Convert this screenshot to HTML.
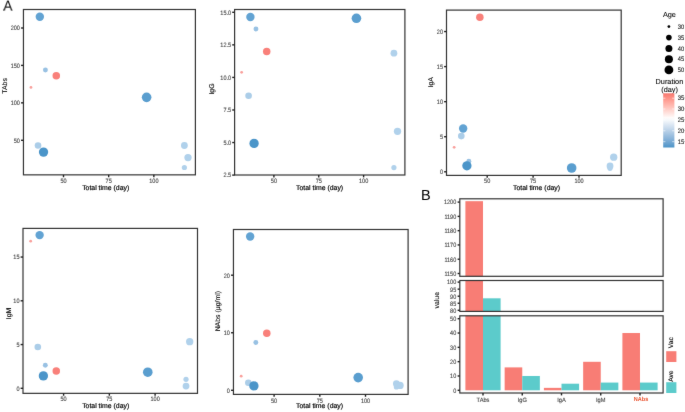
<!DOCTYPE html>
<html><head><meta charset="utf-8"><style>
html,body{margin:0;padding:0;background:#fff;}
body{width:685px;height:412px;overflow:hidden;}
svg{display:block;font-family:"Liberation Sans", sans-serif;will-change:transform;text-rendering:geometricPrecision;}
</style></head><body>
<svg width="685" height="412" viewBox="0 0 685 412">
<defs><filter id="soft" x="0" y="0" width="685" height="412" filterUnits="userSpaceOnUse" color-interpolation-filters="sRGB"><feConvolveMatrix order="3" kernelMatrix="0.01 0.05 0.01 0.05 0.76 0.05 0.01 0.05 0.01" edgeMode="duplicate"/></filter></defs>
<g filter="url(#soft)">
<rect width="685" height="412" fill="#fff"/>
<circle cx="30.97" cy="87.40" r="1.4" fill="#f9a09c"/>
<circle cx="45.43" cy="70.00" r="2.45" fill="#98c1e3"/>
<circle cx="38.02" cy="145.50" r="3.3" fill="#abcde8"/>
<circle cx="184.39" cy="167.50" r="2.6" fill="#b0d1eb"/>
<circle cx="184.39" cy="145.50" r="3.4" fill="#b0d1eb"/>
<circle cx="188.00" cy="157.60" r="3.65" fill="#b0d1eb"/>
<circle cx="56.27" cy="75.80" r="3.75" fill="#f9807a"/>
<circle cx="39.83" cy="16.70" r="4.2" fill="#62a3d3"/>
<circle cx="146.62" cy="97.35" r="4.8" fill="#5a9ecf"/>
<circle cx="43.53" cy="152.10" r="4.65" fill="#4b95c9"/>
<rect x="23.45" y="9.5" width="171.95" height="165.35" fill="none" stroke="#333333" stroke-width="1.2"/>
<line x1="21.05" y1="28.0" x2="23.45" y2="28.0" stroke="#222222" stroke-width="1.4"/>
<text transform="translate(19.95 28.85) scale(0.88 1)" font-size="6.3" text-anchor="end" dominant-baseline="central" fill="#444444" font-weight="normal" stroke="#444" stroke-width="0.12">200</text>
<line x1="21.05" y1="65.4" x2="23.45" y2="65.4" stroke="#222222" stroke-width="1.4"/>
<text transform="translate(19.95 66.25) scale(0.88 1)" font-size="6.3" text-anchor="end" dominant-baseline="central" fill="#444444" font-weight="normal" stroke="#444" stroke-width="0.12">150</text>
<line x1="21.05" y1="102.85" x2="23.45" y2="102.85" stroke="#222222" stroke-width="1.4"/>
<text transform="translate(19.95 103.70) scale(0.88 1)" font-size="6.3" text-anchor="end" dominant-baseline="central" fill="#444444" font-weight="normal" stroke="#444" stroke-width="0.12">100</text>
<line x1="21.05" y1="140.3" x2="23.45" y2="140.3" stroke="#222222" stroke-width="1.4"/>
<text transform="translate(19.95 141.15) scale(0.88 1)" font-size="6.3" text-anchor="end" dominant-baseline="central" fill="#444444" font-weight="normal" stroke="#444" stroke-width="0.12">50</text>
<line x1="63.50" y1="174.85" x2="63.50" y2="177.25" stroke="#222222" stroke-width="1.4"/>
<text transform="translate(63.50 181.30) scale(0.88 1)" font-size="6.3" text-anchor="middle" dominant-baseline="central" fill="#444444" font-weight="normal" stroke="#444" stroke-width="0.12">50</text>
<line x1="108.67" y1="174.85" x2="108.67" y2="177.25" stroke="#222222" stroke-width="1.4"/>
<text transform="translate(108.67 181.30) scale(0.88 1)" font-size="6.3" text-anchor="middle" dominant-baseline="central" fill="#444444" font-weight="normal" stroke="#444" stroke-width="0.12">75</text>
<line x1="153.85" y1="174.85" x2="153.85" y2="177.25" stroke="#222222" stroke-width="1.4"/>
<text transform="translate(153.85 181.30) scale(0.88 1)" font-size="6.3" text-anchor="middle" dominant-baseline="central" fill="#444444" font-weight="normal" stroke="#444" stroke-width="0.12">100</text>
<text transform="translate(105.70 188.60)" font-size="6.9" text-anchor="middle" dominant-baseline="central" fill="#000" font-weight="normal" stroke="#000" stroke-width="0.18">Total time (day)</text>
<text transform="translate(5.30 85.90) rotate(-90)" font-size="6.9" text-anchor="middle" dominant-baseline="central" fill="#000" font-weight="normal" stroke="#000" stroke-width="0.1">TAbs</text>
<circle cx="241.61" cy="72.30" r="1.4" fill="#f9a09c"/>
<circle cx="255.96" cy="29.00" r="2.45" fill="#98c1e3"/>
<circle cx="248.60" cy="95.80" r="3.3" fill="#abcde8"/>
<circle cx="393.92" cy="167.60" r="2.6" fill="#b0d1eb"/>
<circle cx="393.92" cy="53.20" r="3.4" fill="#b0d1eb"/>
<circle cx="397.51" cy="131.35" r="3.65" fill="#b0d1eb"/>
<circle cx="266.72" cy="51.60" r="3.75" fill="#f9807a"/>
<circle cx="250.40" cy="17.00" r="4.2" fill="#62a3d3"/>
<circle cx="356.42" cy="18.30" r="4.8" fill="#5a9ecf"/>
<circle cx="254.08" cy="143.40" r="4.65" fill="#4b95c9"/>
<rect x="234.6" y="9.5" width="170.30" height="165.50" fill="none" stroke="#333333" stroke-width="1.2"/>
<line x1="232.20" y1="12.3" x2="234.6" y2="12.3" stroke="#222222" stroke-width="1.4"/>
<text transform="translate(231.10 13.15) scale(0.88 1)" font-size="6.3" text-anchor="end" dominant-baseline="central" fill="#444444" font-weight="normal" stroke="#444" stroke-width="0.12">15.0</text>
<line x1="232.20" y1="44.86" x2="234.6" y2="44.86" stroke="#222222" stroke-width="1.4"/>
<text transform="translate(231.10 45.71) scale(0.88 1)" font-size="6.3" text-anchor="end" dominant-baseline="central" fill="#444444" font-weight="normal" stroke="#444" stroke-width="0.12">12.5</text>
<line x1="232.20" y1="77.42" x2="234.6" y2="77.42" stroke="#222222" stroke-width="1.4"/>
<text transform="translate(231.10 78.27) scale(0.88 1)" font-size="6.3" text-anchor="end" dominant-baseline="central" fill="#444444" font-weight="normal" stroke="#444" stroke-width="0.12">10.0</text>
<line x1="232.20" y1="109.98" x2="234.6" y2="109.98" stroke="#222222" stroke-width="1.4"/>
<text transform="translate(231.10 110.83) scale(0.88 1)" font-size="6.3" text-anchor="end" dominant-baseline="central" fill="#444444" font-weight="normal" stroke="#444" stroke-width="0.12">7.5</text>
<line x1="232.20" y1="142.54" x2="234.6" y2="142.54" stroke="#222222" stroke-width="1.4"/>
<text transform="translate(231.10 143.39) scale(0.88 1)" font-size="6.3" text-anchor="end" dominant-baseline="central" fill="#444444" font-weight="normal" stroke="#444" stroke-width="0.12">5.0</text>
<line x1="232.20" y1="175.1" x2="234.6" y2="175.1" stroke="#222222" stroke-width="1.4"/>
<text transform="translate(231.10 175.95) scale(0.88 1)" font-size="6.3" text-anchor="end" dominant-baseline="central" fill="#444444" font-weight="normal" stroke="#444" stroke-width="0.12">2.5</text>
<line x1="273.90" y1="175.0" x2="273.90" y2="177.40" stroke="#222222" stroke-width="1.4"/>
<text transform="translate(273.90 181.30) scale(0.88 1)" font-size="6.3" text-anchor="middle" dominant-baseline="central" fill="#444444" font-weight="normal" stroke="#444" stroke-width="0.12">50</text>
<line x1="318.75" y1="175.0" x2="318.75" y2="177.40" stroke="#222222" stroke-width="1.4"/>
<text transform="translate(318.75 181.30) scale(0.88 1)" font-size="6.3" text-anchor="middle" dominant-baseline="central" fill="#444444" font-weight="normal" stroke="#444" stroke-width="0.12">75</text>
<line x1="363.60" y1="175.0" x2="363.60" y2="177.40" stroke="#222222" stroke-width="1.4"/>
<text transform="translate(363.60 181.30) scale(0.88 1)" font-size="6.3" text-anchor="middle" dominant-baseline="central" fill="#444444" font-weight="normal" stroke="#444" stroke-width="0.12">100</text>
<text transform="translate(319.60 188.60)" font-size="6.9" text-anchor="middle" dominant-baseline="central" fill="#000" font-weight="normal" stroke="#000" stroke-width="0.18">Total time (day)</text>
<text transform="translate(212.70 89.00) rotate(-90)" font-size="6.9" text-anchor="middle" dominant-baseline="central" fill="#000" font-weight="normal" stroke="#000" stroke-width="0.1">IgG</text>
<circle cx="454.15" cy="147.30" r="1.4" fill="#f9a09c"/>
<circle cx="468.84" cy="161.30" r="2.45" fill="#98c1e3"/>
<circle cx="461.31" cy="136.10" r="3.3" fill="#abcde8"/>
<circle cx="610.03" cy="168.30" r="2.6" fill="#b0d1eb"/>
<circle cx="610.03" cy="165.90" r="3.4" fill="#b0d1eb"/>
<circle cx="613.70" cy="157.20" r="3.65" fill="#b0d1eb"/>
<circle cx="479.86" cy="17.20" r="3.75" fill="#f9807a"/>
<circle cx="463.15" cy="128.50" r="4.2" fill="#62a3d3"/>
<circle cx="571.66" cy="168.00" r="4.8" fill="#5a9ecf"/>
<circle cx="466.91" cy="165.80" r="4.65" fill="#4b95c9"/>
<rect x="446.5" y="10.1" width="174.70" height="165.30" fill="none" stroke="#333333" stroke-width="1.2"/>
<line x1="444.10" y1="31.55" x2="446.5" y2="31.55" stroke="#222222" stroke-width="1.4"/>
<text transform="translate(443.00 32.40) scale(0.88 1)" font-size="6.3" text-anchor="end" dominant-baseline="central" fill="#444444" font-weight="normal" stroke="#444" stroke-width="0.12">20</text>
<line x1="444.10" y1="66.61" x2="446.5" y2="66.61" stroke="#222222" stroke-width="1.4"/>
<text transform="translate(443.00 67.46) scale(0.88 1)" font-size="6.3" text-anchor="end" dominant-baseline="central" fill="#444444" font-weight="normal" stroke="#444" stroke-width="0.12">15</text>
<line x1="444.10" y1="101.67" x2="446.5" y2="101.67" stroke="#222222" stroke-width="1.4"/>
<text transform="translate(443.00 102.52) scale(0.88 1)" font-size="6.3" text-anchor="end" dominant-baseline="central" fill="#444444" font-weight="normal" stroke="#444" stroke-width="0.12">10</text>
<line x1="444.10" y1="136.73" x2="446.5" y2="136.73" stroke="#222222" stroke-width="1.4"/>
<text transform="translate(443.00 137.58) scale(0.88 1)" font-size="6.3" text-anchor="end" dominant-baseline="central" fill="#444444" font-weight="normal" stroke="#444" stroke-width="0.12">5</text>
<line x1="444.10" y1="171.8" x2="446.5" y2="171.8" stroke="#222222" stroke-width="1.4"/>
<text transform="translate(443.00 172.65) scale(0.88 1)" font-size="6.3" text-anchor="end" dominant-baseline="central" fill="#444444" font-weight="normal" stroke="#444" stroke-width="0.12">0</text>
<line x1="487.20" y1="175.4" x2="487.20" y2="177.80" stroke="#222222" stroke-width="1.4"/>
<text transform="translate(487.20 181.55) scale(0.88 1)" font-size="6.3" text-anchor="middle" dominant-baseline="central" fill="#444444" font-weight="normal" stroke="#444" stroke-width="0.12">50</text>
<line x1="533.10" y1="175.4" x2="533.10" y2="177.80" stroke="#222222" stroke-width="1.4"/>
<text transform="translate(533.10 181.55) scale(0.88 1)" font-size="6.3" text-anchor="middle" dominant-baseline="central" fill="#444444" font-weight="normal" stroke="#444" stroke-width="0.12">75</text>
<line x1="579.00" y1="175.4" x2="579.00" y2="177.80" stroke="#222222" stroke-width="1.4"/>
<text transform="translate(579.00 181.55) scale(0.88 1)" font-size="6.3" text-anchor="middle" dominant-baseline="central" fill="#444444" font-weight="normal" stroke="#444" stroke-width="0.12">100</text>
<text transform="translate(536.50 188.60)" font-size="6.9" text-anchor="middle" dominant-baseline="central" fill="#000" font-weight="normal" stroke="#000" stroke-width="0.18">Total time (day)</text>
<text transform="translate(431.60 82.20) rotate(-90)" font-size="6.9" text-anchor="middle" dominant-baseline="central" fill="#000" font-weight="normal" stroke="#000" stroke-width="0.1">IgA</text>
<circle cx="30.66" cy="241.20" r="1.4" fill="#f9a09c"/>
<circle cx="45.30" cy="365.20" r="2.45" fill="#98c1e3"/>
<circle cx="37.80" cy="347.00" r="3.3" fill="#abcde8"/>
<circle cx="186.03" cy="379.30" r="2.6" fill="#b0d1eb"/>
<circle cx="186.03" cy="386.10" r="3.4" fill="#b0d1eb"/>
<circle cx="189.69" cy="341.70" r="3.65" fill="#b0d1eb"/>
<circle cx="56.28" cy="371.00" r="3.75" fill="#f9807a"/>
<circle cx="39.63" cy="235.10" r="4.2" fill="#62a3d3"/>
<circle cx="147.78" cy="372.20" r="4.8" fill="#5a9ecf"/>
<circle cx="43.38" cy="375.90" r="4.65" fill="#4b95c9"/>
<rect x="23.0" y="228.4" width="174.50" height="164.95" fill="none" stroke="#333333" stroke-width="1.2"/>
<line x1="20.60" y1="257.05" x2="23.0" y2="257.05" stroke="#222222" stroke-width="1.4"/>
<text transform="translate(19.50 257.90) scale(0.88 1)" font-size="6.3" text-anchor="end" dominant-baseline="central" fill="#444444" font-weight="normal" stroke="#444" stroke-width="0.12">15</text>
<line x1="20.60" y1="300.8" x2="23.0" y2="300.8" stroke="#222222" stroke-width="1.4"/>
<text transform="translate(19.50 301.65) scale(0.88 1)" font-size="6.3" text-anchor="end" dominant-baseline="central" fill="#444444" font-weight="normal" stroke="#444" stroke-width="0.12">10</text>
<line x1="20.60" y1="344.55" x2="23.0" y2="344.55" stroke="#222222" stroke-width="1.4"/>
<text transform="translate(19.50 345.40) scale(0.88 1)" font-size="6.3" text-anchor="end" dominant-baseline="central" fill="#444444" font-weight="normal" stroke="#444" stroke-width="0.12">5</text>
<line x1="20.60" y1="388.3" x2="23.0" y2="388.3" stroke="#222222" stroke-width="1.4"/>
<text transform="translate(19.50 389.15) scale(0.88 1)" font-size="6.3" text-anchor="end" dominant-baseline="central" fill="#444444" font-weight="normal" stroke="#444" stroke-width="0.12">0</text>
<line x1="63.60" y1="393.35" x2="63.60" y2="395.75" stroke="#222222" stroke-width="1.4"/>
<text transform="translate(63.60 399.65) scale(0.88 1)" font-size="6.3" text-anchor="middle" dominant-baseline="central" fill="#444444" font-weight="normal" stroke="#444" stroke-width="0.12">50</text>
<line x1="109.35" y1="393.35" x2="109.35" y2="395.75" stroke="#222222" stroke-width="1.4"/>
<text transform="translate(109.35 399.65) scale(0.88 1)" font-size="6.3" text-anchor="middle" dominant-baseline="central" fill="#444444" font-weight="normal" stroke="#444" stroke-width="0.12">75</text>
<line x1="155.10" y1="393.35" x2="155.10" y2="395.75" stroke="#222222" stroke-width="1.4"/>
<text transform="translate(155.10 399.65) scale(0.88 1)" font-size="6.3" text-anchor="middle" dominant-baseline="central" fill="#444444" font-weight="normal" stroke="#444" stroke-width="0.12">100</text>
<text transform="translate(105.70 406.90)" font-size="6.9" text-anchor="middle" dominant-baseline="central" fill="#000" font-weight="normal" stroke="#000" stroke-width="0.18">Total time (day)</text>
<text transform="translate(9.90 313.50) rotate(-90)" font-size="6.9" text-anchor="middle" dominant-baseline="central" fill="#000" font-weight="normal" stroke="#000" stroke-width="0.1">IgM</text>
<circle cx="241.20" cy="376.20" r="1.4" fill="#f9a09c"/>
<circle cx="255.82" cy="342.50" r="2.45" fill="#98c1e3"/>
<circle cx="248.33" cy="382.70" r="3.3" fill="#abcde8"/>
<circle cx="396.39" cy="386.90" r="2.6" fill="#b0d1eb"/>
<circle cx="396.39" cy="383.70" r="3.4" fill="#b0d1eb"/>
<circle cx="400.05" cy="385.40" r="3.65" fill="#b0d1eb"/>
<circle cx="266.79" cy="333.20" r="3.75" fill="#f9807a"/>
<circle cx="250.15" cy="236.50" r="4.2" fill="#62a3d3"/>
<circle cx="358.19" cy="377.60" r="4.8" fill="#5a9ecf"/>
<circle cx="253.90" cy="385.90" r="4.65" fill="#4b95c9"/>
<rect x="233.45" y="229.5" width="174.65" height="164.90" fill="none" stroke="#333333" stroke-width="1.2"/>
<line x1="231.05" y1="275.2" x2="233.45" y2="275.2" stroke="#222222" stroke-width="1.4"/>
<text transform="translate(229.95 276.05) scale(0.88 1)" font-size="6.3" text-anchor="end" dominant-baseline="central" fill="#444444" font-weight="normal" stroke="#444" stroke-width="0.12">20</text>
<line x1="231.05" y1="332.75" x2="233.45" y2="332.75" stroke="#222222" stroke-width="1.4"/>
<text transform="translate(229.95 333.60) scale(0.88 1)" font-size="6.3" text-anchor="end" dominant-baseline="central" fill="#444444" font-weight="normal" stroke="#444" stroke-width="0.12">10</text>
<line x1="231.05" y1="390.3" x2="233.45" y2="390.3" stroke="#222222" stroke-width="1.4"/>
<text transform="translate(229.95 391.15) scale(0.88 1)" font-size="6.3" text-anchor="end" dominant-baseline="central" fill="#444444" font-weight="normal" stroke="#444" stroke-width="0.12">0</text>
<line x1="274.10" y1="394.4" x2="274.10" y2="396.80" stroke="#222222" stroke-width="1.4"/>
<text transform="translate(274.10 401.05) scale(0.88 1)" font-size="6.3" text-anchor="middle" dominant-baseline="central" fill="#444444" font-weight="normal" stroke="#444" stroke-width="0.12">50</text>
<line x1="319.80" y1="394.4" x2="319.80" y2="396.80" stroke="#222222" stroke-width="1.4"/>
<text transform="translate(319.80 401.05) scale(0.88 1)" font-size="6.3" text-anchor="middle" dominant-baseline="central" fill="#444444" font-weight="normal" stroke="#444" stroke-width="0.12">75</text>
<line x1="365.50" y1="394.4" x2="365.50" y2="396.80" stroke="#222222" stroke-width="1.4"/>
<text transform="translate(365.50 401.05) scale(0.88 1)" font-size="6.3" text-anchor="middle" dominant-baseline="central" fill="#444444" font-weight="normal" stroke="#444" stroke-width="0.12">100</text>
<text transform="translate(319.50 406.90)" font-size="6.9" text-anchor="middle" dominant-baseline="central" fill="#000" font-weight="normal" stroke="#000" stroke-width="0.18">Total time (day)</text>
<text transform="translate(218.20 311.20) rotate(-90)" font-size="6.9" text-anchor="middle" dominant-baseline="central" fill="#000" font-weight="normal" stroke="#000" stroke-width="0.1">NAbs (μg/ml)</text>
<text transform="translate(3.4 10.6) scale(0.92 1)" font-size="14.5" fill="#000">A</text>
<text x="421.1" y="199.7" font-size="14.5" fill="#000">B</text>
<text transform="translate(669.40 14.80)" font-size="7.3" text-anchor="middle" dominant-baseline="central" fill="#000" font-weight="normal" stroke="#000" stroke-width="0.08">Age</text>
<circle cx="668.9" cy="26.6" r="1.4" fill="#000"/>
<text transform="translate(677.70 27.15) scale(0.9 1)" font-size="6.4" text-anchor="start" dominant-baseline="central" fill="#1a1a1a" font-weight="normal" stroke="#1a1a1a" stroke-width="0.1">30</text>
<circle cx="668.9" cy="37.6" r="2.8" fill="#000"/>
<text transform="translate(677.70 38.15) scale(0.9 1)" font-size="6.4" text-anchor="start" dominant-baseline="central" fill="#1a1a1a" font-weight="normal" stroke="#1a1a1a" stroke-width="0.1">35</text>
<circle cx="668.9" cy="48.5" r="3.5" fill="#000"/>
<text transform="translate(677.70 49.05) scale(0.9 1)" font-size="6.4" text-anchor="start" dominant-baseline="central" fill="#1a1a1a" font-weight="normal" stroke="#1a1a1a" stroke-width="0.1">40</text>
<circle cx="668.9" cy="59.2" r="4.0" fill="#000"/>
<text transform="translate(677.70 59.75) scale(0.9 1)" font-size="6.4" text-anchor="start" dominant-baseline="central" fill="#1a1a1a" font-weight="normal" stroke="#1a1a1a" stroke-width="0.1">45</text>
<circle cx="668.9" cy="69.9" r="4.4" fill="#000"/>
<text transform="translate(677.70 70.45) scale(0.9 1)" font-size="6.4" text-anchor="start" dominant-baseline="central" fill="#1a1a1a" font-weight="normal" stroke="#1a1a1a" stroke-width="0.1">50</text>
<text transform="translate(669.40 81.30)" font-size="7.3" text-anchor="middle" dominant-baseline="central" fill="#000" font-weight="normal" stroke="#000" stroke-width="0.08">Duration</text>
<text transform="translate(669.60 89.60)" font-size="7.3" text-anchor="middle" dominant-baseline="central" fill="#000" font-weight="normal" stroke="#000" stroke-width="0.08">(day)</text>
<defs><linearGradient id="cb" x1="0" y1="1" x2="0" y2="0"><stop offset="0.000" stop-color="#4a94c8"/><stop offset="0.050" stop-color="#609dcd"/><stop offset="0.100" stop-color="#73a7d2"/><stop offset="0.150" stop-color="#85b1d8"/><stop offset="0.200" stop-color="#95bbdd"/><stop offset="0.250" stop-color="#a6c5e2"/><stop offset="0.300" stop-color="#b6cfe7"/><stop offset="0.350" stop-color="#c6d9ec"/><stop offset="0.400" stop-color="#d5e3f1"/><stop offset="0.450" stop-color="#e5edf6"/><stop offset="0.500" stop-color="#f4f8fb"/><stop offset="0.550" stop-color="#fffbfa"/><stop offset="0.600" stop-color="#ffece9"/><stop offset="0.650" stop-color="#ffded9"/><stop offset="0.700" stop-color="#ffcfc9"/><stop offset="0.750" stop-color="#ffc1b9"/><stop offset="0.800" stop-color="#ffb2a9"/><stop offset="0.850" stop-color="#ffa49a"/><stop offset="0.900" stop-color="#fe958b"/><stop offset="0.950" stop-color="#fb867c"/><stop offset="1.000" stop-color="#f8766d"/></linearGradient></defs>
<rect x="663.2" y="93.3" width="11.2" height="54.2" fill="url(#cb)"/>
<line x1="663.2" y1="98.2" x2="665.4" y2="98.2" stroke="#fff" stroke-width="0.6"/>
<line x1="672.2" y1="98.2" x2="674.4" y2="98.2" stroke="#fff" stroke-width="0.6"/>
<line x1="684.0" y1="98.0" x2="685" y2="98.0" stroke="#aaa" stroke-width="0.7"/>
<text transform="translate(677.70 98.75) scale(0.9 1)" font-size="6.4" text-anchor="start" dominant-baseline="central" fill="#1a1a1a" font-weight="normal" stroke="#1a1a1a" stroke-width="0.1">35</text>
<line x1="663.2" y1="109.0" x2="665.4" y2="109.0" stroke="#fff" stroke-width="0.6"/>
<line x1="672.2" y1="109.0" x2="674.4" y2="109.0" stroke="#fff" stroke-width="0.6"/>
<line x1="684.0" y1="108.8" x2="685" y2="108.8" stroke="#aaa" stroke-width="0.7"/>
<text transform="translate(677.70 109.55) scale(0.9 1)" font-size="6.4" text-anchor="start" dominant-baseline="central" fill="#1a1a1a" font-weight="normal" stroke="#1a1a1a" stroke-width="0.1">30</text>
<line x1="663.2" y1="119.9" x2="665.4" y2="119.9" stroke="#fff" stroke-width="0.6"/>
<line x1="672.2" y1="119.9" x2="674.4" y2="119.9" stroke="#fff" stroke-width="0.6"/>
<line x1="684.0" y1="119.7" x2="685" y2="119.7" stroke="#aaa" stroke-width="0.7"/>
<text transform="translate(677.70 120.45) scale(0.9 1)" font-size="6.4" text-anchor="start" dominant-baseline="central" fill="#1a1a1a" font-weight="normal" stroke="#1a1a1a" stroke-width="0.1">25</text>
<line x1="663.2" y1="130.8" x2="665.4" y2="130.8" stroke="#fff" stroke-width="0.6"/>
<line x1="672.2" y1="130.8" x2="674.4" y2="130.8" stroke="#fff" stroke-width="0.6"/>
<line x1="684.0" y1="130.60000000000002" x2="685" y2="130.60000000000002" stroke="#aaa" stroke-width="0.7"/>
<text transform="translate(677.70 131.35) scale(0.9 1)" font-size="6.4" text-anchor="start" dominant-baseline="central" fill="#1a1a1a" font-weight="normal" stroke="#1a1a1a" stroke-width="0.1">20</text>
<line x1="663.2" y1="141.7" x2="665.4" y2="141.7" stroke="#fff" stroke-width="0.6"/>
<line x1="672.2" y1="141.7" x2="674.4" y2="141.7" stroke="#fff" stroke-width="0.6"/>
<line x1="684.0" y1="141.5" x2="685" y2="141.5" stroke="#aaa" stroke-width="0.7"/>
<text transform="translate(677.70 142.25) scale(0.9 1)" font-size="6.4" text-anchor="start" dominant-baseline="central" fill="#1a1a1a" font-weight="normal" stroke="#1a1a1a" stroke-width="0.1">15</text>
<clipPath id="c198"><rect x="459.8" y="198.8" width="203.3" height="77.5"/></clipPath>
<g clip-path="url(#c198)">
<rect x="465.40" y="201.17" width="17.6" height="77.13" fill="#f87d75"/>
</g>
<rect x="459.8" y="198.8" width="203.30" height="77.50" fill="none" stroke="#333333" stroke-width="1.2"/>
<line x1="457.60" y1="273.50" x2="459.8" y2="273.50" stroke="#222222" stroke-width="1.4"/>
<text transform="translate(456.20 274.35) scale(0.87 1)" font-size="6.3" text-anchor="end" dominant-baseline="central" fill="#444444" font-weight="normal" stroke="#444" stroke-width="0.12">1150</text>
<line x1="457.60" y1="259.22" x2="459.8" y2="259.22" stroke="#222222" stroke-width="1.4"/>
<text transform="translate(456.20 260.07) scale(0.87 1)" font-size="6.3" text-anchor="end" dominant-baseline="central" fill="#444444" font-weight="normal" stroke="#444" stroke-width="0.12">1160</text>
<line x1="457.60" y1="244.94" x2="459.8" y2="244.94" stroke="#222222" stroke-width="1.4"/>
<text transform="translate(456.20 245.79) scale(0.87 1)" font-size="6.3" text-anchor="end" dominant-baseline="central" fill="#444444" font-weight="normal" stroke="#444" stroke-width="0.12">1170</text>
<line x1="457.60" y1="230.66" x2="459.8" y2="230.66" stroke="#222222" stroke-width="1.4"/>
<text transform="translate(456.20 231.51) scale(0.87 1)" font-size="6.3" text-anchor="end" dominant-baseline="central" fill="#444444" font-weight="normal" stroke="#444" stroke-width="0.12">1180</text>
<line x1="457.60" y1="216.38" x2="459.8" y2="216.38" stroke="#222222" stroke-width="1.4"/>
<text transform="translate(456.20 217.23) scale(0.87 1)" font-size="6.3" text-anchor="end" dominant-baseline="central" fill="#444444" font-weight="normal" stroke="#444" stroke-width="0.12">1190</text>
<line x1="457.60" y1="202.10" x2="459.8" y2="202.10" stroke="#222222" stroke-width="1.4"/>
<text transform="translate(456.20 202.95) scale(0.87 1)" font-size="6.3" text-anchor="end" dominant-baseline="central" fill="#444444" font-weight="normal" stroke="#444" stroke-width="0.12">1200</text>
<clipPath id="c280"><rect x="459.8" y="280.5" width="203.3" height="30.899999999999977"/></clipPath>
<g clip-path="url(#c280)">
<rect x="465.40" y="278.50" width="17.6" height="34.90" fill="#f87d75"/>
<rect x="483.00" y="298.31" width="17.6" height="15.08" fill="#5ccbcb"/>
</g>
<rect x="459.8" y="280.5" width="203.30" height="30.90" fill="none" stroke="#333333" stroke-width="1.2"/>
<line x1="457.60" y1="310.30" x2="459.8" y2="310.30" stroke="#222222" stroke-width="1.4"/>
<text transform="translate(456.20 311.15) scale(0.87 1)" font-size="6.3" text-anchor="end" dominant-baseline="central" fill="#444444" font-weight="normal" stroke="#444" stroke-width="0.12">80</text>
<line x1="457.60" y1="303.25" x2="459.8" y2="303.25" stroke="#222222" stroke-width="1.4"/>
<text transform="translate(456.20 304.10) scale(0.87 1)" font-size="6.3" text-anchor="end" dominant-baseline="central" fill="#444444" font-weight="normal" stroke="#444" stroke-width="0.12">85</text>
<line x1="457.60" y1="296.20" x2="459.8" y2="296.20" stroke="#222222" stroke-width="1.4"/>
<text transform="translate(456.20 297.05) scale(0.87 1)" font-size="6.3" text-anchor="end" dominant-baseline="central" fill="#444444" font-weight="normal" stroke="#444" stroke-width="0.12">90</text>
<line x1="457.60" y1="289.15" x2="459.8" y2="289.15" stroke="#222222" stroke-width="1.4"/>
<text transform="translate(456.20 290.00) scale(0.87 1)" font-size="6.3" text-anchor="end" dominant-baseline="central" fill="#444444" font-weight="normal" stroke="#444" stroke-width="0.12">95</text>
<line x1="457.60" y1="282.10" x2="459.8" y2="282.10" stroke="#222222" stroke-width="1.4"/>
<text transform="translate(456.20 282.95) scale(0.87 1)" font-size="6.3" text-anchor="end" dominant-baseline="central" fill="#444444" font-weight="normal" stroke="#444" stroke-width="0.12">100</text>
<clipPath id="c315"><rect x="459.8" y="315.8" width="203.3" height="77.19999999999999"/></clipPath>
<g clip-path="url(#c315)">
<rect x="465.40" y="313.80" width="17.6" height="76.50" fill="#f87d75"/>
<rect x="483.00" y="313.80" width="17.6" height="76.50" fill="#5ccbcb"/>
<rect x="504.65" y="367.39" width="17.6" height="22.91" fill="#f87d75"/>
<rect x="522.25" y="375.98" width="17.6" height="14.32" fill="#5ccbcb"/>
<rect x="543.90" y="387.87" width="17.6" height="2.43" fill="#f87d75"/>
<rect x="561.50" y="383.71" width="17.6" height="6.59" fill="#5ccbcb"/>
<rect x="583.15" y="361.80" width="17.6" height="28.50" fill="#f87d75"/>
<rect x="600.75" y="382.57" width="17.6" height="7.73" fill="#5ccbcb"/>
<rect x="622.40" y="333.02" width="17.6" height="57.28" fill="#f87d75"/>
<rect x="640.00" y="382.57" width="17.6" height="7.73" fill="#5ccbcb"/>
</g>
<rect x="459.8" y="315.8" width="203.30" height="77.20" fill="none" stroke="#333333" stroke-width="1.2"/>
<line x1="457.60" y1="390.30" x2="459.8" y2="390.30" stroke="#222222" stroke-width="1.4"/>
<text transform="translate(456.20 391.15) scale(0.87 1)" font-size="6.3" text-anchor="end" dominant-baseline="central" fill="#444444" font-weight="normal" stroke="#444" stroke-width="0.12">0</text>
<line x1="457.60" y1="375.98" x2="459.8" y2="375.98" stroke="#222222" stroke-width="1.4"/>
<text transform="translate(456.20 376.83) scale(0.87 1)" font-size="6.3" text-anchor="end" dominant-baseline="central" fill="#444444" font-weight="normal" stroke="#444" stroke-width="0.12">10</text>
<line x1="457.60" y1="361.66" x2="459.8" y2="361.66" stroke="#222222" stroke-width="1.4"/>
<text transform="translate(456.20 362.51) scale(0.87 1)" font-size="6.3" text-anchor="end" dominant-baseline="central" fill="#444444" font-weight="normal" stroke="#444" stroke-width="0.12">20</text>
<line x1="457.60" y1="347.34" x2="459.8" y2="347.34" stroke="#222222" stroke-width="1.4"/>
<text transform="translate(456.20 348.19) scale(0.87 1)" font-size="6.3" text-anchor="end" dominant-baseline="central" fill="#444444" font-weight="normal" stroke="#444" stroke-width="0.12">30</text>
<line x1="457.60" y1="333.02" x2="459.8" y2="333.02" stroke="#222222" stroke-width="1.4"/>
<text transform="translate(456.20 333.87) scale(0.87 1)" font-size="6.3" text-anchor="end" dominant-baseline="central" fill="#444444" font-weight="normal" stroke="#444" stroke-width="0.12">40</text>
<line x1="457.60" y1="318.70" x2="459.8" y2="318.70" stroke="#222222" stroke-width="1.4"/>
<text transform="translate(456.20 319.55) scale(0.87 1)" font-size="6.3" text-anchor="end" dominant-baseline="central" fill="#444444" font-weight="normal" stroke="#444" stroke-width="0.12">50</text>
<line x1="483.00" y1="393.0" x2="483.00" y2="395.4" stroke="#222222" stroke-width="1.4"/>
<text transform="translate(483.00 400.15) scale(0.92 1)" font-size="6.2" text-anchor="middle" dominant-baseline="central" fill="#444444" font-weight="normal" stroke="#444" stroke-width="0.12">TAbs</text>
<line x1="522.25" y1="393.0" x2="522.25" y2="395.4" stroke="#222222" stroke-width="1.4"/>
<text transform="translate(522.25 400.15) scale(0.92 1)" font-size="6.2" text-anchor="middle" dominant-baseline="central" fill="#444444" font-weight="normal" stroke="#444" stroke-width="0.12">IgG</text>
<line x1="561.50" y1="393.0" x2="561.50" y2="395.4" stroke="#222222" stroke-width="1.4"/>
<text transform="translate(561.50 400.15) scale(0.92 1)" font-size="6.2" text-anchor="middle" dominant-baseline="central" fill="#444444" font-weight="normal" stroke="#444" stroke-width="0.12">IgA</text>
<line x1="600.75" y1="393.0" x2="600.75" y2="395.4" stroke="#222222" stroke-width="1.4"/>
<text transform="translate(600.75 400.15) scale(0.92 1)" font-size="6.2" text-anchor="middle" dominant-baseline="central" fill="#444444" font-weight="normal" stroke="#444" stroke-width="0.12">IgM</text>
<line x1="640.00" y1="393.0" x2="640.00" y2="395.4" stroke="#222222" stroke-width="1.4"/>
<text transform="translate(641.00 400.15) scale(0.92 1)" font-size="6.0" text-anchor="middle" dominant-baseline="central" fill="#e9522f" font-weight="bold">NAbs</text>
<text transform="translate(437.50 300.20) rotate(-90)" font-size="6.9" text-anchor="middle" dominant-baseline="central" fill="#000" font-weight="normal" stroke="#000" stroke-width="0.1">value</text>
<text transform="translate(671.10 342.70) rotate(-90)" font-size="6.6" text-anchor="middle" dominant-baseline="central" fill="#111" font-weight="normal" stroke="#111" stroke-width="0.15">Vac</text>
<rect x="666.2" y="351.2" width="10.2" height="10.8" fill="#f87d75"/>
<text transform="translate(671.10 376.20) rotate(-90)" font-size="6.6" text-anchor="middle" dominant-baseline="central" fill="#111" font-weight="normal" stroke="#111" stroke-width="0.15">Ave</text>
<rect x="666.2" y="382.2" width="10.2" height="10.8" fill="#5ccbcb"/>
</g>
</svg>
</body></html>
